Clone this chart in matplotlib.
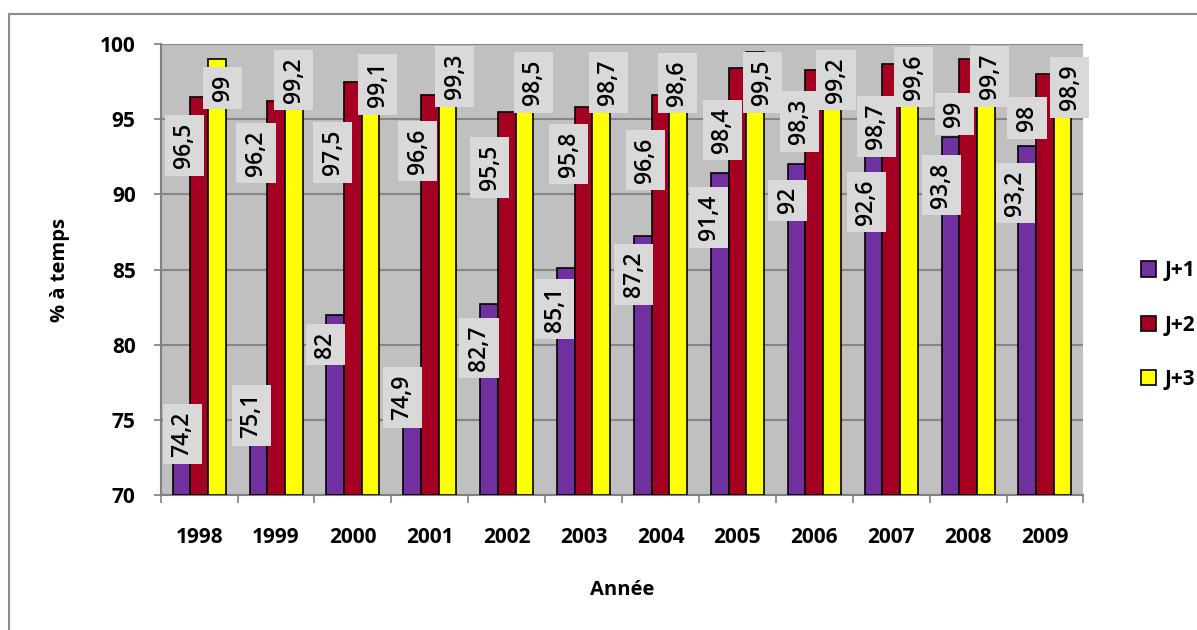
import matplotlib
matplotlib.use("Agg")
import matplotlib.pyplot as plt
import numpy as np
from matplotlib.lines import Line2D

plt.rcParams['font.family'] = ['Open Sans', 'DejaVu Sans']

annees = ['1998', '1999', '2000', '2001', '2002', '2003',
          '2004', '2005', '2006', '2007', '2008', '2009']
j1 = [74.2, 75.1, 82, 74.9, 82.7, 85.1, 87.2, 91.4, 92, 92.6, 93.8, 93.2]
j2 = [96.5, 96.2, 97.5, 96.6, 95.5, 95.8, 96.6, 98.4, 98.3, 98.7, 99, 98]
j3 = [99, 99.2, 99.1, 99.3, 98.5, 98.7, 98.6, 99.5, 99.2, 99.6, 99.7, 98.9]
series = ["J+1", "J+2", "J+3"]
colors = ['#7030a0', '#a50021', '#ffff00']

# label offsets (pixels: dx right, dy down from bar top), mimics Excel's placement
offs = [
    [(1, 2), (-7, -3), (-10, 30), (-10, -24), (-10, 44), (-11, 41),
     (-9, 38), (-11, 44), (-9, 36), (-7, 47), (-9, 48), (-12, 47)],
    [(-15, 49), (-20, 52), (-20, 71), (-12, 56), (-17, 56), (-15, 47),
     (-15, 65), (-15, 62), (-15, 52), (-15, 63), (-14, 55), (-18, 44)],
    [(6, 29), (0, 24), (7, 27), (7, 22), (9, 16), (7, 19),
     (-1, 18), (7, 31), (4, 24), (5, 27), (4, 28), (7, 27)],
]

W, H = 1197, 630
fig = plt.figure(figsize=(W/100, H/100), dpi=100)
ax = fig.add_axes([160.7/W, 1 - 495/H, (1083.4-160.7)/W, 451/H])

x = np.arange(len(annees))
bw = 0.23
data = [j1, j2, j3]

bars = []
for k, vals in enumerate(data):
    b = ax.bar(x + (k-1)*bw, np.array(vals) - 70, bw, bottom=70,
               color=colors[k], edgecolor='black', linewidth=1.2,
               label=series[k], zorder=3)
    bars.append(b)

for k, vals in enumerate(data):
    for i, v in enumerate(vals):
        dx, dy = offs[k][i]
        ax.annotate(f"{v:g}".replace('.', ','), (x[i] + (k-1)*bw, v),
                    xytext=(dx, -dy), textcoords='offset pixels',
                    rotation=90, ha='center', va='center',
                    fontsize=16.5, fontweight='semibold', color='black', zorder=5,
                    bbox=dict(boxstyle='square,pad=0.33', fc='#d9d9d9', ec='none'),
                    annotation_clip=False)

ax.set_facecolor('#c0c0c0')
ax.set_ylim(70, 100)
ax.set_xlim(-0.5, len(annees) - 0.5)
ax.set_yticks(np.arange(70, 101, 5))
ax.yaxis.grid(True, color='#868686', linewidth=1.5, zorder=0)
ax.set_axisbelow(True)

ax.set_xticks(np.arange(-0.5, len(annees), 1))
ax.set_xticklabels([])
ax.set_xticks(x, minor=True)
ax.set_xticklabels(annees, minor=True, fontsize=15, fontweight='bold')
ax.tick_params(axis='x', which='minor', length=0, pad=23)
ax.tick_params(axis='x', which='major', length=6, color='#808080', width=1.2)
ax.tick_params(axis='y', length=5, color='#808080', width=1.2, pad=13,
               labelsize=15)
for lab in ax.get_yticklabels():
    lab.set_fontweight('bold')

for s in ['top', 'right']:
    ax.spines[s].set_visible(False)
for s in ['left', 'bottom']:
    ax.spines[s].set_color('#808080')
    ax.spines[s].set_linewidth(1.5)

fig.text(60/W, 1 - 270/H, "% à temps", rotation=90, ha='center', va='center',
         fontsize=14.5, fontweight='bold')
fig.text(622/W, 1 - 590/H, "Année", ha='center', va='center',
         fontsize=14.5, fontweight='bold')

leg = fig.legend(handles=bars, loc='center left',
                 bbox_to_anchor=(1122/W, 1 - 325/H), frameon=False,
                 handlelength=0.75, handleheight=0.75, handletextpad=0.4,
                 labelspacing=1.6, prop={'size': 15, 'weight': 'bold'})

# outer chart border
fig.add_artist(Line2D([9/W, 1], [1 - 14/H, 1 - 14/H], color='#8c8c8c', lw=1.5))
fig.add_artist(Line2D([9/W, 9/W], [0, 1 - 14/H], color='#8c8c8c', lw=1.5))

fig.savefig("out.png", dpi=100)
